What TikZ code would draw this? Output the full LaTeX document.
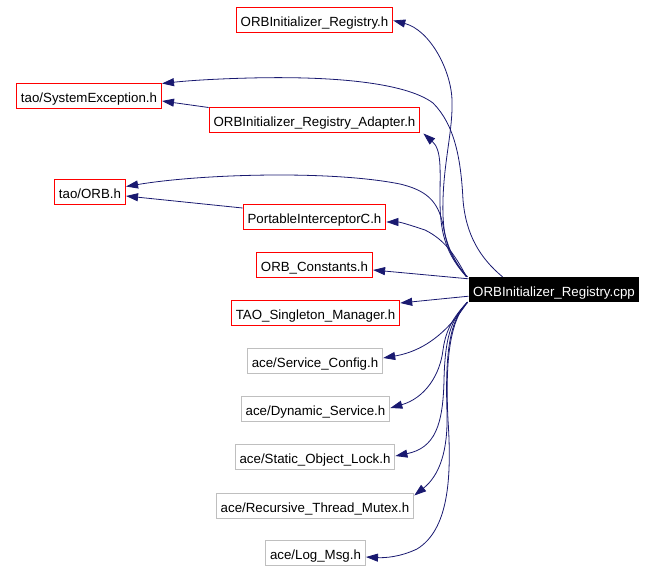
\documentclass[tikz,border=0pt]{standalone}
\usepackage{fontspec}
\setmainfont{Liberation Sans}
\usetikzlibrary{arrows.meta}
\definecolor{edgeblue}{HTML}{191970}
\definecolor{boxgray}{HTML}{BFBFBF}
\begin{document}
\begin{tikzpicture}[x=1pt,y=-1pt,
  every node/.style={font=\fontsize{13.3}{15}\selectfont, text height=13.6pt, text depth=0pt},
  redbox/.style={draw=red, line width=1pt, inner xsep=4.5pt, inner ysep=0pt, minimum height=25pt, fill=white},
  graybox/.style={draw=boxgray, line width=1pt, inner xsep=4.5pt, inner ysep=0pt, minimum height=25pt, fill=white},
  mainbox/.style={fill=black, text=white, inner xsep=4.5pt, inner ysep=0pt, minimum height=25pt},
  edge/.style={draw=edgeblue, line width=0.8pt, -{Triangle[length=12pt,width=8pt]}}]
\useasboundingbox (0,0) rectangle (656,571);

\node[redbox] (reg) at (314.5,19.5) {ORBInitializer\_Registry.h};
\node[redbox] (sysex) at (89,95.5) {tao/SystemException.h};
\node[redbox] (adapter) at (314.5,119.5) {ORBInitializer\_Registry\_Adapter.h};
\node[redbox] (orb) at (90,191.5) {tao/ORB.h};
\node[redbox] (pic) at (314.5,217) {PortableInterceptorC.h};
\node[redbox] (const) at (314.5,265) {ORB\_Constants.h};
\node[redbox] (singleton) at (315.5,313) {TAO\_Singleton\_Manager.h};
\node[mainbox] (cpp) at (554,289.5) {ORBInitializer\_Registry.cpp};
\node[graybox] (svc) at (315,361) {ace/Service\_Config.h};
\node[graybox] (dyn) at (315.5,409) {ace/Dynamic\_Service.h};
\node[graybox] (lock) at (315,457) {ace/Static\_Object\_Lock.h};
\node[graybox] (mutex) at (315,505.5) {ace/Recursive\_Thread\_Mutex.h};
\node[graybox] (log) at (315.5,553) {ace/Log\_Msg.h};

% cpp -> ORBInitializer_Registry.h
\draw[edge] ([xshift=-1pt]cpp.north west) .. controls (447,255) and (442,235) .. (443,200)
  .. controls (444,160) and (453,130) .. (452,100)
  .. controls (451,70) and (430,30) .. ([yshift=-1pt]reg.east);
% cpp -> tao/SystemException.h
\draw[edge] ([xshift=34pt]cpp.north west) .. controls (480,258) and (466,235) .. (463,200)
  .. controls (461,160) and (455,125) .. (433,103)
  .. controls (405,82) and (330,76) .. (250,78)
  .. controls (210,79) and (185,81) .. ([yshift=-1pt]sysex.north east);
% adapter -> tao/SystemException.h
\draw[edge] ([yshift=-1pt]adapter.north west) -- ([yshift=-5.5pt]sysex.east);
% cpp -> adapter
\draw[edge] ([xshift=-2pt]cpp.north west) .. controls (447,255) and (440,235) .. (440,200)
  .. controls (440,170) and (442,150) .. ([xshift=3pt,yshift=-1pt]adapter.south east);
% cpp -> tao/ORB.h
\draw[edge] ([xshift=-2pt]cpp.north west) .. controls (455,262) and (447,248) .. (443,225)
  .. controls (438,200) and (425,190) .. (400,184)
  .. controls (330,170) and (200,174) .. ([yshift=5pt]orb.east);
% PortableInterceptorC.h -> tao/ORB.h
\draw[edge] ([yshift=9pt]pic.west) -- ([yshift=-4.5pt]orb.east);
% cpp -> PortableInterceptorC.h
\draw[edge] ([xshift=-2pt]cpp.north west) .. controls (455,255) and (445,240) .. (425,230)
  .. controls (410,225) and (400,222) .. ([yshift=-5pt]pic.east);
% cpp -> ORB_Constants.h
\draw[edge] ([yshift=-2pt]cpp.north west) -- ([yshift=-5pt]const.east);
% cpp -> TAO_Singleton_Manager.h
\draw[edge] ([yshift=6pt]cpp.south west) -- ([yshift=10pt]singleton.east);
% cpp -> ace/Service_Config.h
\draw[edge] ([xshift=-1pt]cpp.south west) .. controls (452,325) and (430,350) .. ([yshift=3pt]svc.east);
% cpp -> ace/Dynamic_Service.h
\draw[edge] ([xshift=-1pt]cpp.south west) .. controls (450,320) and (445,335) .. (443,350)
  .. controls (440,375) and (425,398) .. ([yshift=1pt]dyn.east);
% cpp -> ace/Static_Object_Lock.h
\draw[edge] ([xshift=-1pt]cpp.south west) .. controls (450,320) and (445,340) .. (444,380)
  .. controls (443,425) and (435,448) .. ([yshift=1pt]lock.east);
% cpp -> ace/Recursive_Thread_Mutex.h
\draw[edge] ([xshift=-1pt]cpp.south west) .. controls (450,320) and (445,350) .. (447,413)
  .. controls (448,450) and (440,475) .. ([yshift=-3pt]mutex.north east);
% cpp -> ace/Log_Msg.h
\draw[edge] ([xshift=-1pt]cpp.south west) .. controls (450,320) and (445,360) .. (448,420)
  .. controls (452,480) and (448,530) .. (417,549)
  .. controls (400,557) and (385,558) .. ([yshift=-4pt]log.east);
\end{tikzpicture}
\end{document}
